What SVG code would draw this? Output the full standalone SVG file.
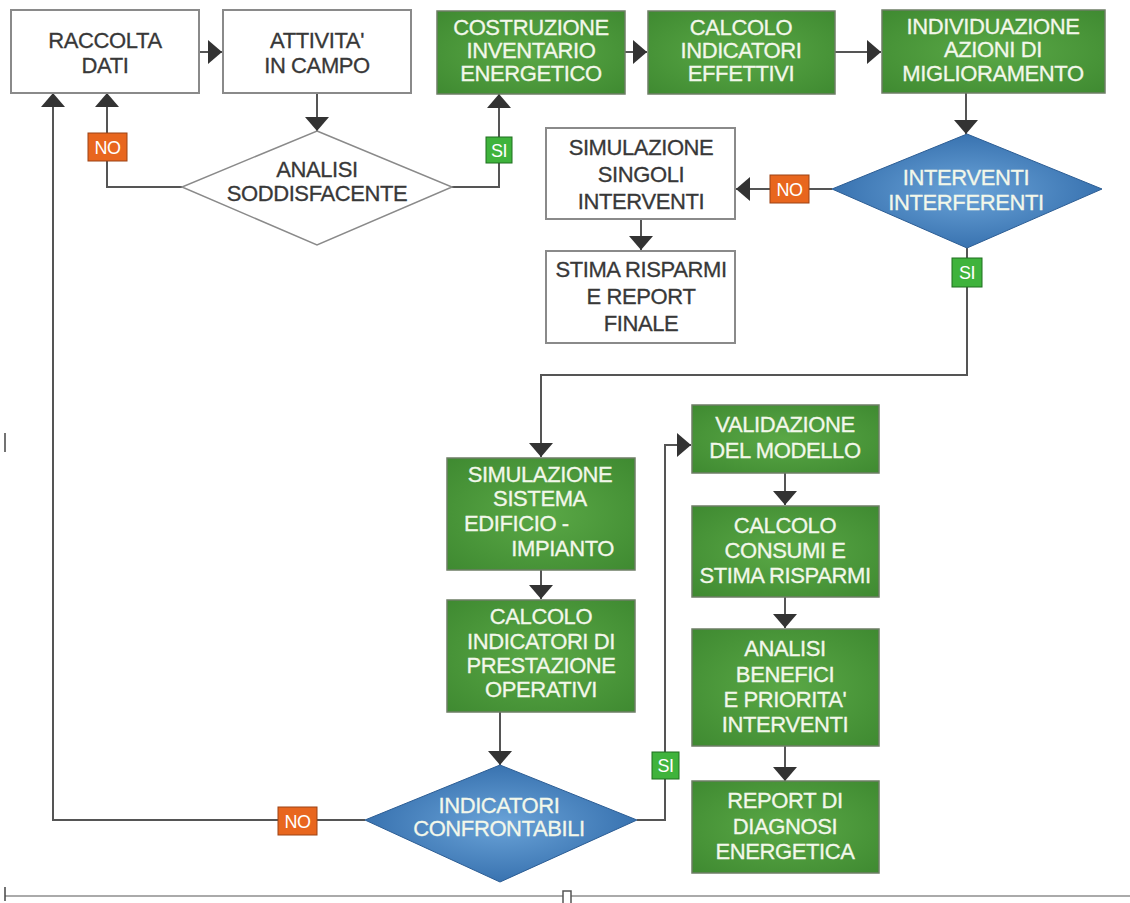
<svg xmlns="http://www.w3.org/2000/svg" width="1130" height="903" viewBox="0 0 1130 903">
<defs>
<radialGradient id="gGreen" cx="50%" cy="50%" r="70%">
<stop offset="0" stop-color="#5aa846"/>
<stop offset="1" stop-color="#3f8a31"/>
</radialGradient>
<radialGradient id="gBlue" cx="50%" cy="50%" r="60%">
<stop offset="0" stop-color="#6aa3d8"/>
<stop offset="1" stop-color="#2f69a8"/>
</radialGradient>
<marker id="ah" markerUnits="userSpaceOnUse" markerWidth="14" markerHeight="24" viewBox="0 0 14 24" refX="14" refY="12" orient="auto">
<path d="M0,0 L14,12 L0,24 z" fill="#333"/>
</marker>
<style>
.wbox{fill:#fff;stroke:#8a8a8a;stroke-width:2}
.gbox{fill:url(#gGreen);stroke:#6e7e66;stroke-width:1.5}
.bdia{fill:url(#gBlue);stroke:#2c5d94;stroke-width:1}
.wdia{fill:#fff;stroke:#8a8a8a;stroke-width:1.5}
.dt{font-family:"Liberation Sans",Arial,sans-serif;font-size:22px;letter-spacing:-0.4px;fill:#383838;stroke:#383838;stroke-width:0.3;text-anchor:middle}
.lt{font-family:"Liberation Sans",Arial,sans-serif;font-size:22px;letter-spacing:-0.4px;fill:#f2f7ea;stroke:#f2f7ea;stroke-width:0.3;text-anchor:middle}
.conn{fill:none;stroke:#555;stroke-width:2}
.no{fill:#e8661e;stroke:#9c4214;stroke-width:1}
.si{fill:#3fb33c;stroke:#1f6e1f;stroke-width:1}
.lab{font-family:"Liberation Sans",Arial,sans-serif;font-size:18px;letter-spacing:-0.5px;fill:#fff;text-anchor:middle}
</style>
</defs>
<rect width="1130" height="903" fill="#fff"/>

<g id="connectors">
<path class="conn" d="M199,52 H222" marker-end="url(#ah)"/>
<path class="conn" d="M317,93 V131" marker-end="url(#ah)"/>
<path class="conn" d="M182,187 H107 V93" marker-end="url(#ah)"/>
<path class="conn" d="M452,187 H499 V94" marker-end="url(#ah)"/>
<path class="conn" d="M625,52 H647" marker-end="url(#ah)"/>
<path class="conn" d="M835,52 H881" marker-end="url(#ah)"/>
<path class="conn" d="M966,93 V134" marker-end="url(#ah)"/>
<path class="conn" d="M832,189 H736" marker-end="url(#ah)"/>
<path class="conn" d="M641,219 V250" marker-end="url(#ah)"/>
<path class="conn" d="M967,248 V375 H541 V457" marker-end="url(#ah)"/>
<path class="conn" d="M541,570 V599" marker-end="url(#ah)"/>
<path class="conn" d="M500,712 V765" marker-end="url(#ah)"/>
<path class="conn" d="M365,820 H53 V93" marker-end="url(#ah)"/>
<path class="conn" d="M637,820 H665 V445 H691" marker-end="url(#ah)"/>
<path class="conn" d="M785,473 V505" marker-end="url(#ah)"/>
<path class="conn" d="M785,597 V628" marker-end="url(#ah)"/>
<path class="conn" d="M785,746 V781" marker-end="url(#ah)"/>
</g>

<g id="n-raccolta">
<rect class="wbox" x="11" y="10" width="188" height="83"/>
<text class="dt" x="105" y="48">RACCOLTA</text>
<text class="dt" x="105" y="73">DATI</text>
</g>
<g id="n-attivita">
<rect class="wbox" x="223" y="10" width="188" height="83"/>
<text class="dt" x="317" y="48">ATTIVITA'</text>
<text class="dt" x="317" y="73">IN CAMPO</text>
</g>
<g id="n-costruzione">
<rect class="gbox" x="437" y="11" width="188" height="83"/>
<text class="lt" x="531" y="35">COSTRUZIONE</text>
<text class="lt" x="531" y="58">INVENTARIO</text>
<text class="lt" x="531" y="81">ENERGETICO</text>
</g>
<g id="n-calcolo-eff">
<rect class="gbox" x="648" y="11" width="187" height="83"/>
<text class="lt" x="741" y="35">CALCOLO</text>
<text class="lt" x="741" y="58">INDICATORI</text>
<text class="lt" x="741" y="81">EFFETTIVI</text>
</g>
<g id="n-individuazione">
<rect class="gbox" x="882" y="10" width="223" height="83"/>
<text class="lt" x="993" y="34">INDIVIDUAZIONE</text>
<text class="lt" x="993" y="57">AZIONI DI</text>
<text class="lt" x="993" y="81">MIGLIORAMENTO</text>
</g>
<g id="n-analisi">
<polygon class="wdia" points="317,131 452,187 317,245 182,187"/>
<text class="dt" x="317" y="177">ANALISI</text>
<text class="dt" x="317" y="201">SODDISFACENTE</text>
</g>
<g id="n-sim-singoli">
<rect class="wbox" x="546" y="128" width="189" height="91"/>
<text class="dt" x="641" y="155">SIMULAZIONE</text>
<text class="dt" x="641" y="182">SINGOLI</text>
<text class="dt" x="641" y="209">INTERVENTI</text>
</g>
<g id="n-stima">
<rect class="wbox" x="546" y="251" width="189" height="92"/>
<text class="dt" x="641" y="277">STIMA RISPARMI</text>
<text class="dt" x="641" y="304">E REPORT</text>
<text class="dt" x="641" y="331">FINALE</text>
</g>
<g id="n-interventi">
<polygon class="bdia" points="967,134 1102,189 967,248 832,189"/>
<text class="lt" x="966" y="185">INTERVENTI</text>
<text class="lt" x="966" y="210">INTERFERENTI</text>
</g>
<g id="n-sim-sistema">
<rect class="gbox" x="447" y="458" width="188" height="112"/>
<text class="lt" x="540" y="482">SIMULAZIONE</text>
<text class="lt" x="540" y="506">SISTEMA</text>
<text class="lt" x="464" y="531" style="text-anchor:start">EDIFICIO -</text>
<text class="lt" x="614" y="556" style="text-anchor:end">IMPIANTO</text>
</g>
<g id="n-calcolo-op">
<rect class="gbox" x="447" y="600" width="188" height="112"/>
<text class="lt" x="541" y="624">CALCOLO</text>
<text class="lt" x="541" y="649">INDICATORI DI</text>
<text class="lt" x="541" y="673">PRESTAZIONE</text>
<text class="lt" x="541" y="697">OPERATIVI</text>
</g>
<g id="n-indicatori">
<polygon class="bdia" points="500,765 637,820 500,882 365,820"/>
<text class="lt" x="499" y="813">INDICATORI</text>
<text class="lt" x="499" y="836">CONFRONTABILI</text>
</g>
<g id="n-validazione">
<rect class="gbox" x="692" y="405" width="187" height="68"/>
<text class="lt" x="785" y="432">VALIDAZIONE</text>
<text class="lt" x="785" y="458">DEL MODELLO</text>
</g>
<g id="n-consumi">
<rect class="gbox" x="692" y="506" width="187" height="91"/>
<text class="lt" x="785" y="533">CALCOLO</text>
<text class="lt" x="785" y="558">CONSUMI E</text>
<text class="lt" x="785" y="583">STIMA RISPARMI</text>
</g>
<g id="n-benefici">
<rect class="gbox" x="692" y="629" width="187" height="117"/>
<text class="lt" x="785" y="656">ANALISI</text>
<text class="lt" x="785" y="682">BENEFICI</text>
<text class="lt" x="785" y="707">E PRIORITA'</text>
<text class="lt" x="785" y="732">INTERVENTI</text>
</g>
<g id="n-report">
<rect class="gbox" x="692" y="781" width="187" height="92"/>
<text class="lt" x="785" y="808">REPORT DI</text>
<text class="lt" x="785" y="834">DIAGNOSI</text>
<text class="lt" x="785" y="859">ENERGETICA</text>
</g>

<g id="labels">
<rect class="no" x="88" y="133" width="39" height="28"/>
<text class="lab" x="107.5" y="154">NO</text>
<rect class="si" x="486" y="137" width="26" height="26"/>
<text class="lab" x="499" y="157">SI</text>
<rect class="no" x="770" y="175" width="39" height="28"/>
<text class="lab" x="789.5" y="196">NO</text>
<rect class="si" x="952" y="258" width="30" height="29"/>
<text class="lab" x="967" y="279">SI</text>
<rect class="no" x="278" y="807" width="39" height="28"/>
<text class="lab" x="297.5" y="828">NO</text>
<rect class="si" x="652" y="752" width="27" height="27"/>
<text class="lab" x="665.5" y="772">SI</text>
</g>

<g id="page-marks">
<line x1="5" y1="896" x2="1130" y2="896" stroke="#aaa" stroke-width="2"/>
<rect x="563" y="891" width="8" height="13" fill="#fff" stroke="#555" stroke-width="1.5"/>
<line x1="5" y1="433" x2="5" y2="452" stroke="#444" stroke-width="1.5"/>
<line x1="5" y1="887" x2="5" y2="901" stroke="#444" stroke-width="1.5"/>
</g>
</svg>
